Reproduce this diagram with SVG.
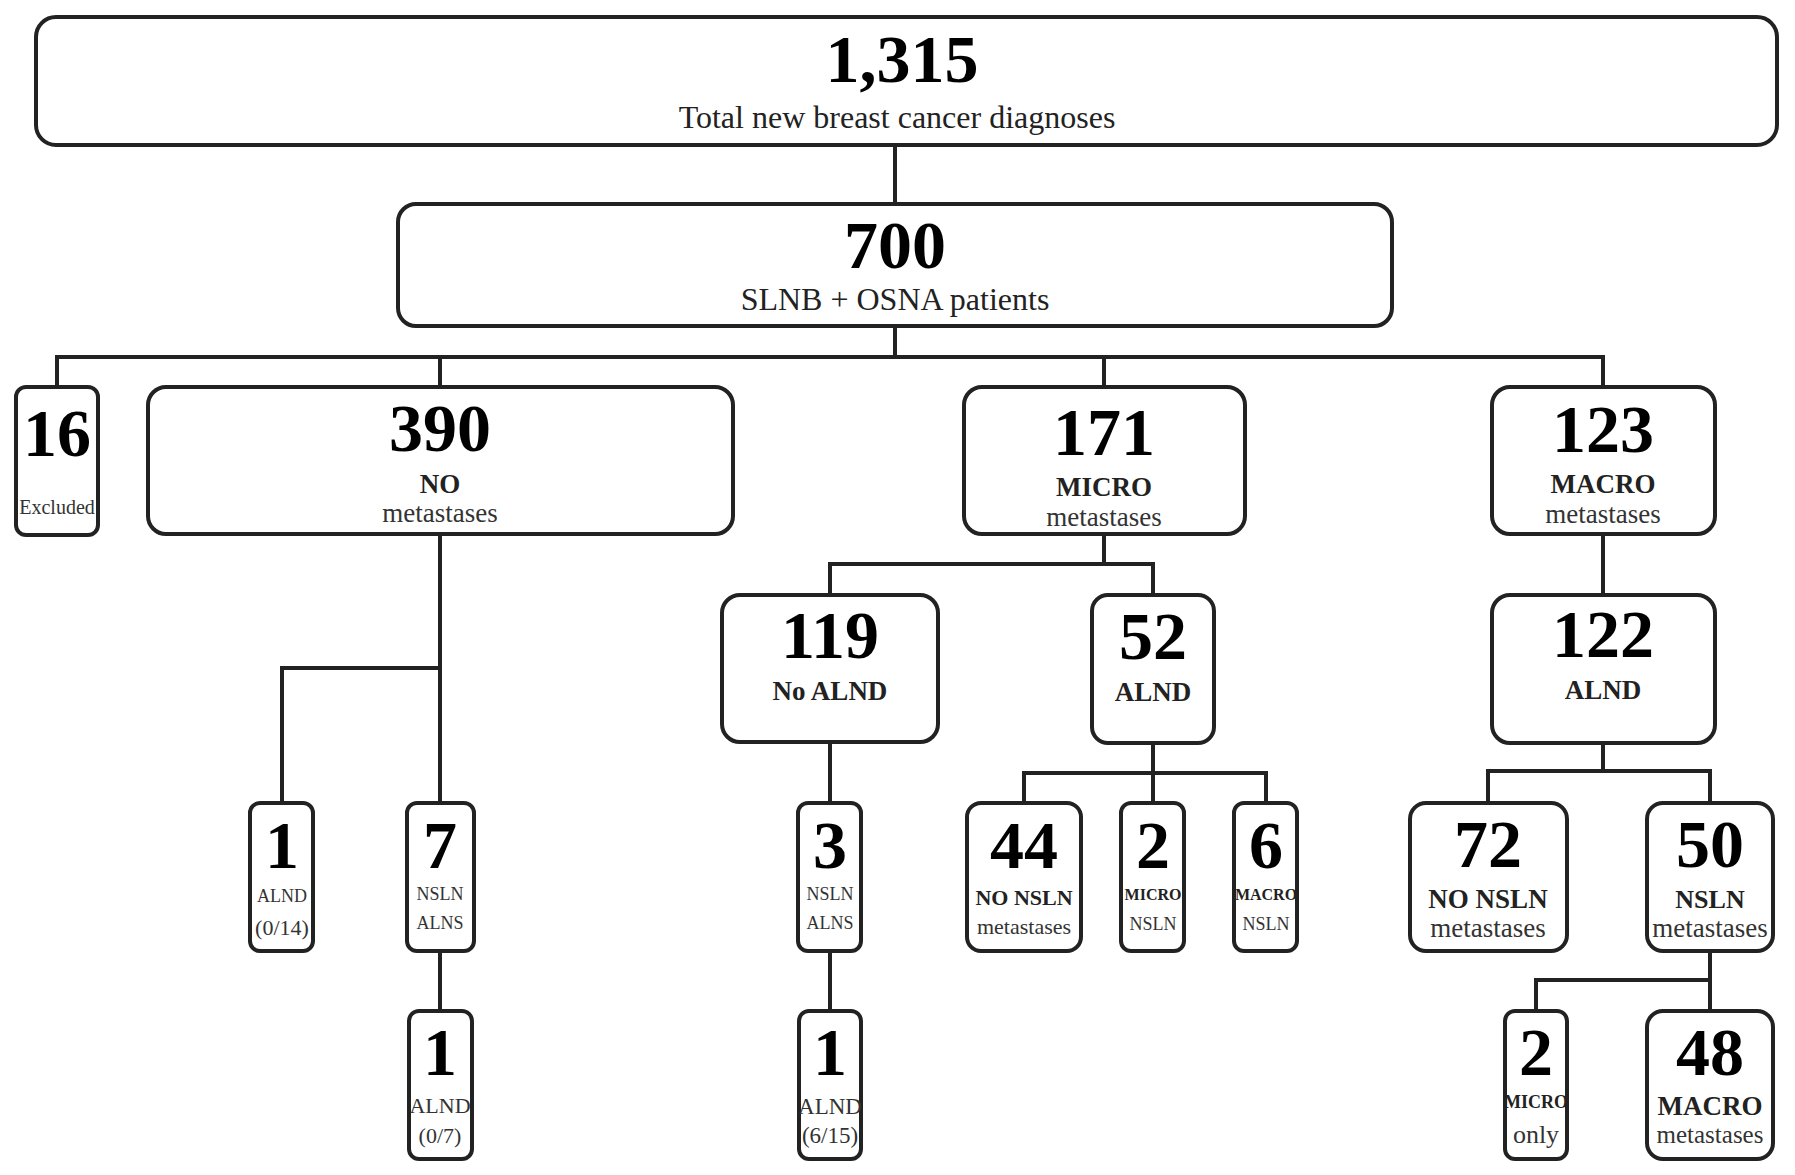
<svg xmlns="http://www.w3.org/2000/svg" width="1795" height="1175" viewBox="0 0 1795 1175">
<style>
  .box { fill: #ffffff; stroke: #222222; stroke-width: 4; }
  .ln { fill: none; stroke: #222222; stroke-width: 4; stroke-linecap: square; }
  text { font-family: "Liberation Serif", "Times New Roman", serif; text-anchor: middle; fill: #222222; }
  .num { font-weight: bold; font-size: 68px; fill: #000000; }
  .b { font-weight: bold; }
  .g { fill: #333333; }
</style>
<rect width="1795" height="1175" fill="#ffffff"/>
<g id="connectors">
  <path class="ln" d="M895 147 V204"/>
  <path class="ln" d="M895 326 V357"/>
  <path class="ln" d="M57 387 V357 H1603 V387"/>
  <path class="ln" d="M440 357 V387"/>
  <path class="ln" d="M1104 357 V387"/>
  <path class="ln" d="M440 534 V803"/>
  <path class="ln" d="M440 668 H282 V803"/>
  <path class="ln" d="M440 951 V1011"/>
  <path class="ln" d="M1104 534 V564"/>
  <path class="ln" d="M830 595 V564 H1153 V595"/>
  <path class="ln" d="M830 742 V803"/>
  <path class="ln" d="M830 951 V1011"/>
  <path class="ln" d="M1153 743 V803"/>
  <path class="ln" d="M1024 803 V773 H1266 V803"/>
  <path class="ln" d="M1603 534 V595"/>
  <path class="ln" d="M1603 743 V771"/>
  <path class="ln" d="M1488 803 V771 H1710 V803"/>
  <path class="ln" d="M1710 951 V1011"/>
  <path class="ln" d="M1710 980 H1536 V1011"/>
</g>
<g id="n1315">
  <rect class="box" x="36" y="17" width="1741" height="128" rx="20"/>
  <text class="num" x="902" y="82">1,315</text>
  <text x="897" y="128" font-size="32">Total new breast cancer diagnoses</text>
</g>
<g id="n700">
  <rect class="box" x="398" y="204" width="994" height="122" rx="18"/>
  <text class="num" x="895" y="268">700</text>
  <text x="895" y="310" font-size="32">SLNB + OSNA patients</text>
</g>
<g id="n16">
  <rect class="box" x="16" y="387" width="82" height="148" rx="10"/>
  <text class="num" x="57" y="456">16</text>
  <text class="g" x="57" y="514" font-size="20">Excluded</text>
</g>
<g id="n390">
  <rect class="box" x="148" y="387" width="585" height="147" rx="18"/>
  <text class="num" x="440" y="451">390</text>
  <text class="b" x="440" y="493" font-size="27">NO</text>
  <text class="g" x="440" y="522" font-size="27">metastases</text>
</g>
<g id="n171">
  <rect class="box" x="964" y="387" width="281" height="147" rx="18"/>
  <text class="num" x="1104" y="455">171</text>
  <text class="b" x="1104" y="496" font-size="27">MICRO</text>
  <text class="g" x="1104" y="526" font-size="27">metastases</text>
</g>
<g id="n123">
  <rect class="box" x="1492" y="387" width="223" height="147" rx="18"/>
  <text class="num" x="1603" y="452">123</text>
  <text class="b" x="1603" y="493" font-size="27">MACRO</text>
  <text class="g" x="1603" y="523" font-size="27">metastases</text>
</g>
<g id="n119">
  <rect class="box" x="722" y="595" width="216" height="147" rx="18"/>
  <text class="num" x="830" y="658">119</text>
  <text class="b" x="830" y="700" font-size="27">No ALND</text>
</g>
<g id="n52">
  <rect class="box" x="1092" y="595" width="122" height="148" rx="16"/>
  <text class="num" x="1153" y="659">52</text>
  <text class="b" x="1153" y="701" font-size="27">ALND</text>
</g>
<g id="n122">
  <rect class="box" x="1492" y="595" width="223" height="148" rx="18"/>
  <text class="num" x="1603" y="657">122</text>
  <text class="b" x="1603" y="699" font-size="27">ALND</text>
</g>
<g id="n1a">
  <rect class="box" x="250" y="803" width="63" height="148" rx="10"/>
  <text class="num" x="282" y="868">1</text>
  <text class="g" x="282" y="902" font-size="18">ALND</text>
  <text class="g" x="282" y="935" font-size="22">(0/14)</text>
</g>
<g id="n7">
  <rect class="box" x="407" y="803" width="67" height="148" rx="10"/>
  <text class="num" x="440" y="868">7</text>
  <text class="g" x="440" y="900" font-size="18">NSLN</text>
  <text class="g" x="440" y="929" font-size="18">ALNS</text>
</g>
<g id="n3">
  <rect class="box" x="798" y="803" width="63" height="148" rx="10"/>
  <text class="num" x="830" y="868">3</text>
  <text class="g" x="830" y="900" font-size="18">NSLN</text>
  <text class="g" x="830" y="929" font-size="18">ALNS</text>
</g>
<g id="n44">
  <rect class="box" x="967" y="803" width="114" height="148" rx="14"/>
  <text class="num" x="1024" y="868">44</text>
  <text class="b" x="1024" y="905" font-size="22">NO NSLN</text>
  <text class="g" x="1024" y="934" font-size="22">metastases</text>
</g>
<g id="n2micro">
  <rect class="box" x="1121" y="803" width="63" height="148" rx="10"/>
  <text class="num" x="1153" y="868">2</text>
  <text class="b" x="1153" y="900" font-size="16">MICRO</text>
  <text class="g" x="1153" y="930" font-size="18">NSLN</text>
</g>
<g id="n6">
  <rect class="box" x="1234" y="803" width="63" height="148" rx="10"/>
  <text class="num" x="1266" y="868">6</text>
  <text class="b" x="1266" y="900" font-size="16">MACRO</text>
  <text class="g" x="1266" y="930" font-size="18">NSLN</text>
</g>
<g id="n72">
  <rect class="box" x="1410" y="803" width="157" height="148" rx="16"/>
  <text class="num" x="1488" y="867">72</text>
  <text class="b" x="1488" y="908" font-size="27">NO NSLN</text>
  <text class="g" x="1488" y="937" font-size="27">metastases</text>
</g>
<g id="n50">
  <rect class="box" x="1647" y="803" width="126" height="148" rx="16"/>
  <text class="num" x="1710" y="867">50</text>
  <text class="b" x="1710" y="908" font-size="26">NSLN</text>
  <text class="g" x="1710" y="937" font-size="27">metastases</text>
</g>
<g id="n1b">
  <rect class="box" x="409" y="1011" width="63" height="148" rx="10"/>
  <text class="num" x="440" y="1075">1</text>
  <text class="g" x="440" y="1113" font-size="22">ALND</text>
  <text class="g" x="440" y="1143" font-size="22">(0/7)</text>
</g>
<g id="n1c">
  <rect class="box" x="799" y="1011" width="62" height="148" rx="10"/>
  <text class="num" x="830" y="1075">1</text>
  <text class="g" x="830" y="1114" font-size="23">ALND</text>
  <text class="g" x="830" y="1143" font-size="23">(6/15)</text>
</g>
<g id="n2only">
  <rect class="box" x="1505" y="1011" width="62" height="148" rx="10"/>
  <text class="num" x="1536" y="1075">2</text>
  <text class="b" x="1536" y="1108" font-size="18">MICRO</text>
  <text class="g" x="1536" y="1143" font-size="26">only</text>
</g>
<g id="n48">
  <rect class="box" x="1647" y="1011" width="126" height="148" rx="16"/>
  <text class="num" x="1710" y="1075">48</text>
  <text class="b" x="1710" y="1115" font-size="27">MACRO</text>
  <text class="g" x="1710" y="1143" font-size="25">metastases</text>
</g>
</svg>
